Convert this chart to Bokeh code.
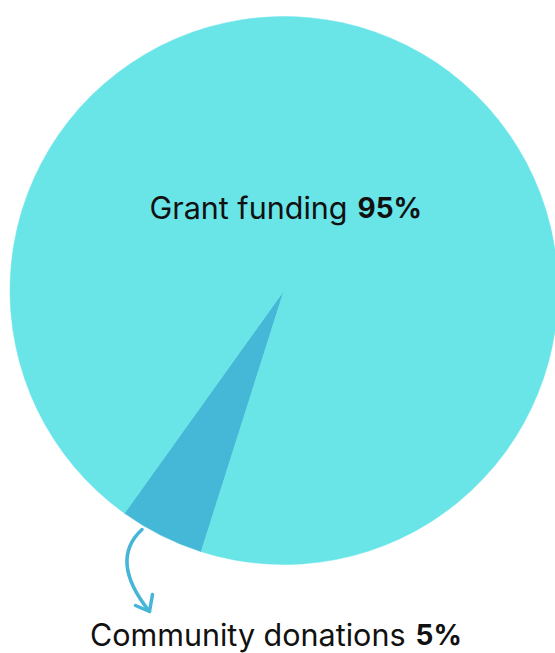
import numpy as np
from bokeh.plotting import figure
from bokeh.models import ColumnDataSource
from bokeh.core.properties import value
from bokeh.embed import file_html
from bokeh.resources import INLINE

# ---- data ----
categories = ["Community donations", "Grant funding"]
shares = [5, 95]
colors = ["#44B8D6", "#69E5E8"]

W, H = 555, 653
p = figure(width=W, height=H, x_range=(0, W), y_range=(0, H),
           output_backend="svg", toolbar_location=None, min_border=0)
p.axis.visible = False
p.grid.visible = False
p.outline_line_color = None
p.background_fill_color = "white"
p.border_fill_color = "white"

def px(x, y):
    # picture pixel -> data coords
    return x, H - y

cx, cy = px(283.5, 290)
R = 274
start0 = np.deg2rad(234.4)
frac = np.array(shares, dtype=float) / sum(shares)
ends = start0 + np.cumsum(frac) * 2 * np.pi
starts = np.concatenate([[start0], ends[:-1]])
src = ColumnDataSource(dict(start=starts, end=ends, color=colors, cat=categories))
p.wedge(x=cx, y=cy, radius=R, start_angle="start", end_angle="end",
        fill_color="color", line_color="color", line_width=0.5, source=src)

# labels
font = value("Inter")
gx, gy = px(347, 207)
p.text(x=[gx], y=[gy], text=[categories[1]], text_font=font, text_font_size="30.5px",
       text_color="#111111", text_align="right", text_baseline="alphabetic")
p.text(x=[gx + 10], y=[gy], text=[f"{shares[1]}%"], text_font=font, text_font_size="28px",
       text_color="#111111", text_align="left", text_baseline="alphabetic", text_font_style="bold")

bx, by = px(405, 634)
p.text(x=[bx], y=[by], text=[categories[0]], text_font=font, text_font_size="30.5px",
       text_color="#111111", text_align="right", text_baseline="alphabetic")
p.text(x=[bx + 10], y=[by], text=[f"{shares[0]}%"], text_font=font, text_font_size="28px",
       text_color="#111111", text_align="left", text_baseline="alphabetic", text_font_style="bold")

# curved arrow
x0, y0 = px(141.5, 529)
xc, yc = px(108, 560)
x1, y1 = px(149, 611)
p.quadratic(x0=[x0], y0=[y0], x1=[x1], y1=[y1], cx=[xc], cy=[yc],
            line_color="#45B5D8", line_width=3.5, line_cap="round")
ha = px(135, 605)
hb = px(152, 594)
p.multi_line(xs=[[ha[0], x1, hb[0]]], ys=[[ha[1], y1, hb[1]]],
             line_color="#45B5D8", line_width=3.5, line_cap="round", line_join="round")

open("out.html", "w").write(file_html(p, INLINE))
